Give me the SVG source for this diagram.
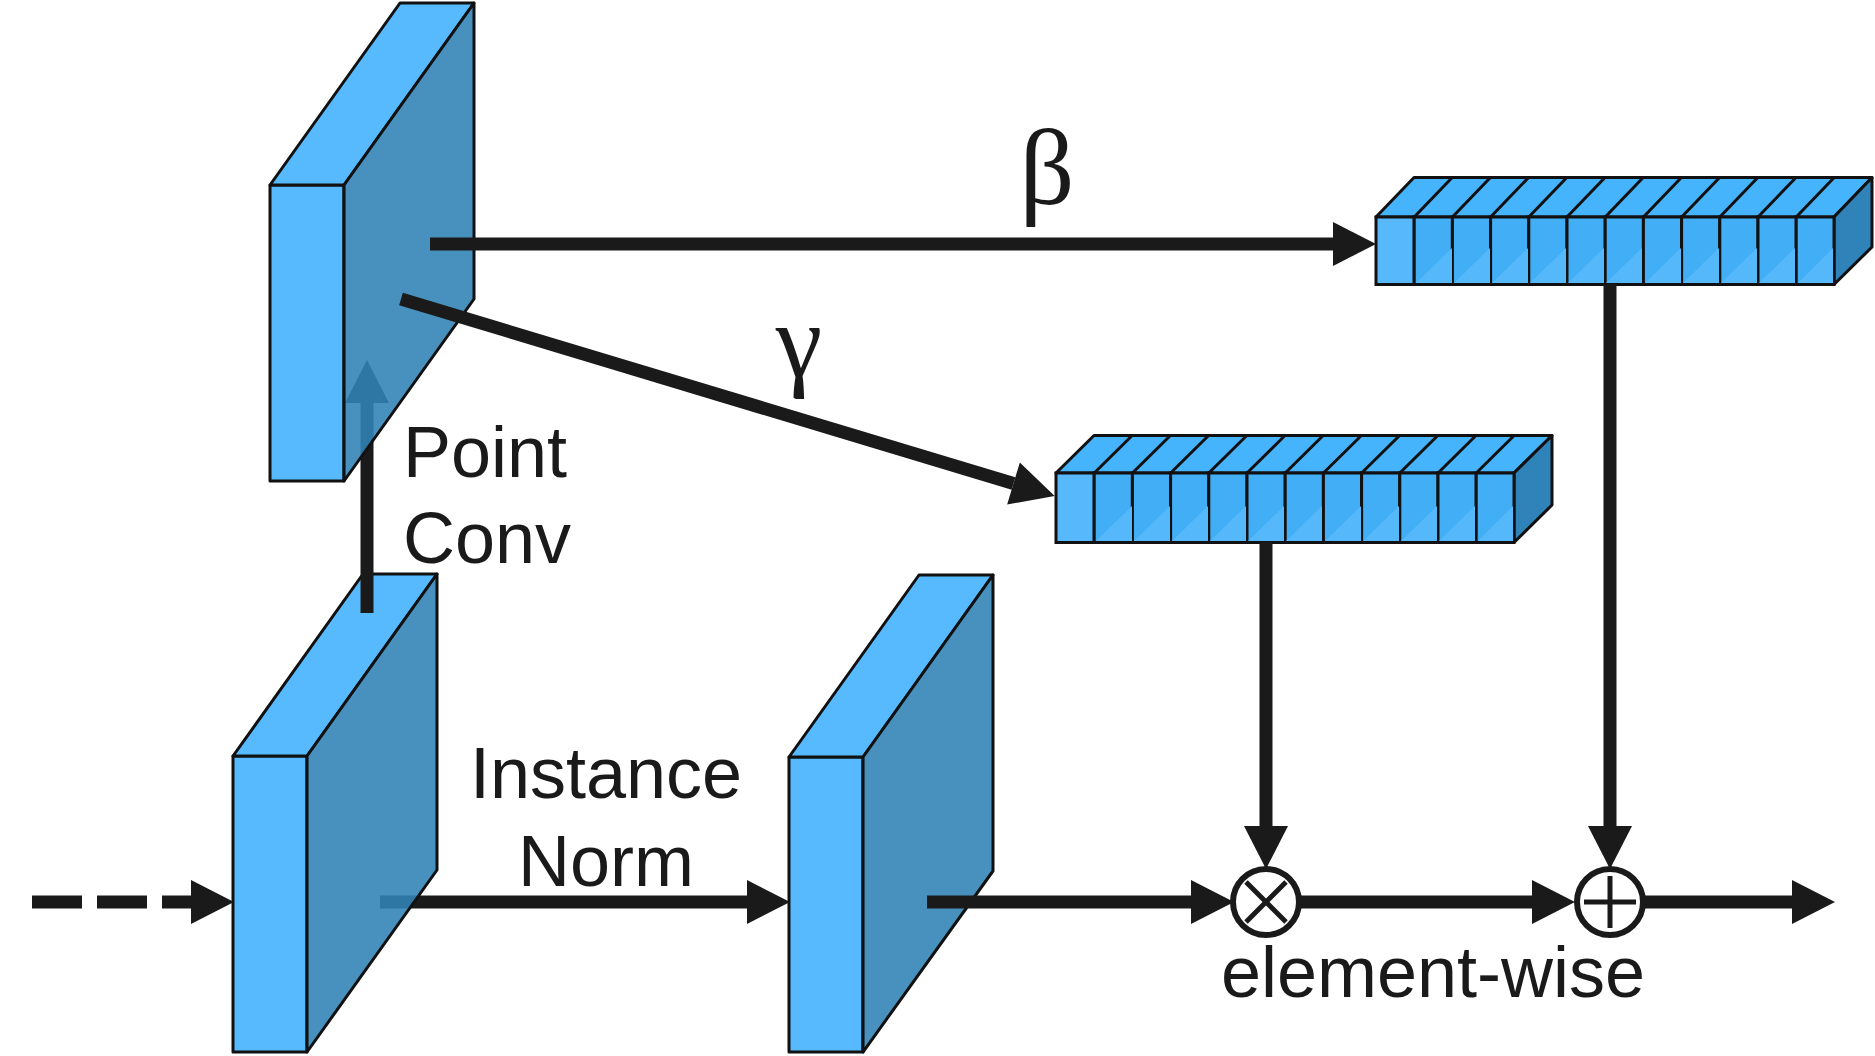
<svg xmlns="http://www.w3.org/2000/svg" width="1875" height="1056" viewBox="0 0 1875 1056">
<defs>
<marker id="ah" markerUnits="userSpaceOnUse" markerWidth="44" markerHeight="44" refX="0" refY="22" orient="auto" overflow="visible">
<path d="M0,0 L43,22 L0,44 z" fill="#1a1a1a"/>
</marker>
<style>
.ln{stroke:#1a1a1a;stroke-width:13;fill:none;marker-end:url(#ah)}
.front{fill:#57baff;stroke:#111;stroke-width:3;stroke-linejoin:round}
.top{fill:#57baff;stroke:#111;stroke-width:3;stroke-linejoin:round}
.side{fill:#3183b6;fill-opacity:0.89;stroke:#111;stroke-width:3;stroke-linejoin:round}
.vtop{fill:#46b4fd;stroke:#111;stroke-width:3;stroke-linejoin:round}
.vside{fill:#2f83b9;stroke:#111;stroke-width:3;stroke-linejoin:round}
.cell{fill:#42aef6;stroke:#111;stroke-width:3}
.cell0{fill:#57b9fc;stroke:#111;stroke-width:3}
.tri{fill:#55b8fb;stroke:none}
.div{stroke:#111;stroke-width:3}
.op{fill:#fff;stroke:#1a1a1a;stroke-width:6}
.opl{stroke:#1a1a1a;stroke-width:5}
.t{font-family:"Liberation Sans",Arial,sans-serif;font-size:72px;fill:#1a1a1a}
.g{font-family:"Liberation Serif","Times New Roman",serif;fill:#1a1a1a}
</style>
</defs>
<rect width="1875" height="1056" fill="#fff"/>

<g id="connectors-under">
<line class="ln" x1="380" y1="902" x2="747" y2="902"/>
</g>

<g id="node-input-fm">
<polygon class="front" points="233,756 307,756 307,1052 233,1052"/>
<polygon class="top" points="233,756 363,574 437,574 307,756"/>
<polygon class="side" points="307,756 437,574 437,870 307,1052"/>
</g>

<g id="connectors-pointconv">
<line class="ln" x1="367" y1="613" x2="367" y2="403"/>
</g>

<g id="node-pointconv-fm">
<polygon class="front" points="270,185 344,185 344,481 270,481"/>
<polygon class="top" points="270,185 400,3 474,3 344,185"/>
<polygon class="side" points="344,185 474,3 474,299 344,481"/>
</g>

<g id="node-norm-fm">
<polygon class="front" points="789,757 863,757 863,1052 789,1052"/>
<polygon class="top" points="789,757 919,575 993,575 863,757"/>
<polygon class="side" points="863,757 993,575 993,871 863,1052"/>
</g>

<g id="node-beta-vec">
<polygon class="vtop" points="1376,217 1414,177.5 1872,177.5 1834,217"/>
<polygon class="vside" points="1834,217 1872,177.5 1872,247 1834,284.5"/>
<rect class="cell0" x="1376" y="217" width="38.2" height="67.5"/>
<g id="beta-cells">
<rect class="cell" x="1414.2" y="217" width="38.2" height="67.5"/>
<rect class="cell" x="1452.4" y="217" width="38.2" height="67.5"/>
<rect class="cell" x="1490.6" y="217" width="38.2" height="67.5"/>
<rect class="cell" x="1528.8" y="217" width="38.2" height="67.5"/>
<rect class="cell" x="1567" y="217" width="38.2" height="67.5"/>
<rect class="cell" x="1605.2" y="217" width="38.2" height="67.5"/>
<rect class="cell" x="1643.4" y="217" width="38.2" height="67.5"/>
<rect class="cell" x="1681.6" y="217" width="38.2" height="67.5"/>
<rect class="cell" x="1719.8" y="217" width="38.2" height="67.5"/>
<rect class="cell" x="1758" y="217" width="38.2" height="67.5"/>
<rect class="cell" x="1796.2" y="217" width="37.8" height="67.5"/>
</g>
<path class="tri" d="M1416,283 L1452,248 L1452,283 z M1454,283 L1490,248 L1490,283 z M1492,283 L1528,248 L1528,283 z M1530,283 L1566,248 L1566,283 z M1568,283 L1604,248 L1604,283 z M1606,283 L1642,248 L1642,283 z M1645,283 L1681,248 L1681,283 z M1683,283 L1719,248 L1719,283 z M1721,283 L1757,248 L1757,283 z M1759,283 L1795,248 L1795,283 z M1798,283 L1833,248 L1833,283 z"/>
<path class="div" d="M1414.2,217 l38,-39.5 M1452.4,217 l38,-39.5 M1490.6,217 l38,-39.5 M1528.8,217 l38,-39.5 M1567,217 l38,-39.5 M1605.2,217 l38,-39.5 M1643.4,217 l38,-39.5 M1681.6,217 l38,-39.5 M1719.8,217 l38,-39.5 M1758,217 l38,-39.5 M1796.2,217 l38,-39.5"/>
</g>

<g id="node-gamma-vec">
<polygon class="vtop" points="1056,473 1094,435.5 1552,435.5 1514,473"/>
<polygon class="vside" points="1514,473 1552,435.5 1552,505 1514,542.5"/>
<rect class="cell0" x="1056" y="473" width="38.2" height="69.5"/>
<g id="gamma-cells">
<rect class="cell" x="1094.2" y="473" width="38.2" height="69.5"/>
<rect class="cell" x="1132.4" y="473" width="38.2" height="69.5"/>
<rect class="cell" x="1170.6" y="473" width="38.2" height="69.5"/>
<rect class="cell" x="1208.8" y="473" width="38.2" height="69.5"/>
<rect class="cell" x="1247" y="473" width="38.2" height="69.5"/>
<rect class="cell" x="1285.2" y="473" width="38.2" height="69.5"/>
<rect class="cell" x="1323.4" y="473" width="38.2" height="69.5"/>
<rect class="cell" x="1361.6" y="473" width="38.2" height="69.5"/>
<rect class="cell" x="1399.8" y="473" width="38.2" height="69.5"/>
<rect class="cell" x="1438" y="473" width="38.2" height="69.5"/>
<rect class="cell" x="1476.2" y="473" width="37.8" height="69.5"/>
</g>
<path class="tri" d="M1096,541 L1132,506 L1132,541 z M1134,541 L1170,506 L1170,541 z M1172,541 L1208,506 L1208,541 z M1210,541 L1246,506 L1246,541 z M1248,541 L1284,506 L1284,541 z M1286,541 L1322,506 L1322,541 z M1325,541 L1361,506 L1361,541 z M1363,541 L1399,506 L1399,541 z M1401,541 L1437,506 L1437,541 z M1439,541 L1475,506 L1475,541 z M1478,541 L1513,506 L1513,541 z"/>
<path class="div" d="M1094.2,473 l38,-37.5 M1132.4,473 l38,-37.5 M1170.6,473 l38,-37.5 M1208.8,473 l38,-37.5 M1247,473 l38,-37.5 M1285.2,473 l38,-37.5 M1323.4,473 l38,-37.5 M1361.6,473 l38,-37.5 M1399.8,473 l38,-37.5 M1438,473 l38,-37.5 M1476.2,473 l38,-37.5"/>
</g>

<g id="connectors">
<line class="ln" x1="32" y1="902" x2="191" y2="902" stroke-dasharray="50 15"/>
<line class="ln" x1="927" y1="902" x2="1191" y2="902"/>
<line class="ln" x1="1300" y1="902" x2="1532" y2="902"/>
<line class="ln" x1="1643" y1="902" x2="1792" y2="902"/>
<line class="ln" x1="430" y1="244" x2="1333" y2="244"/>
<line class="ln" x1="401" y1="299" x2="1013.5" y2="483.5"/>
<line class="ln" x1="1266" y1="542" x2="1266" y2="826"/>
<line class="ln" x1="1610" y1="284" x2="1610" y2="826"/>
</g>

<g id="node-mul">
<circle class="op" cx="1266" cy="902" r="33"/>
<line class="opl" x1="1246" y1="882" x2="1286" y2="922"/>
<line class="opl" x1="1286" y1="882" x2="1246" y2="922"/>
</g>

<g id="node-add">
<circle class="op" cx="1610" cy="902" r="33"/>
<line class="opl" x1="1584" y1="902" x2="1636" y2="902"/>
<line class="opl" x1="1610" y1="876" x2="1610" y2="928"/>
</g>

<g id="labels">
<text class="t" x="403" y="477">Point</text>
<text class="t" x="403" y="563">Conv</text>
<text class="t" x="606" y="798" text-anchor="middle">Instance</text>
<text class="t" x="606" y="886" text-anchor="middle">Norm</text>
<text class="t" x="1433" y="997" text-anchor="middle" font-size="73">element-wise</text>
<text class="g" x="1047" y="204" text-anchor="middle" font-size="108">β</text>
<text class="g" x="799" y="376" text-anchor="middle" font-size="105">γ</text>
</g>
</svg>
